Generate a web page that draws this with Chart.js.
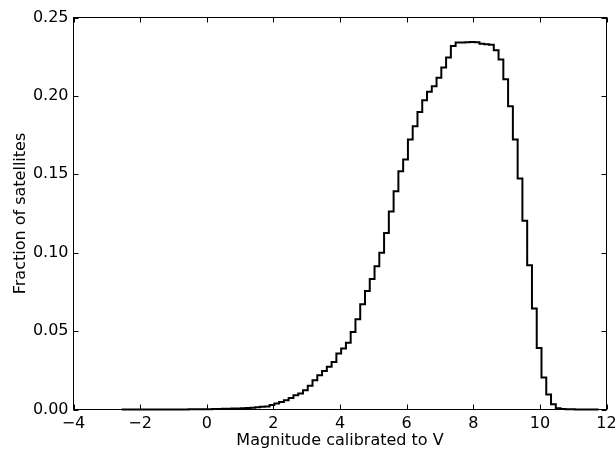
<!DOCTYPE html>
<html>
<head>
<meta charset="utf-8">
<script src="https://cdn.jsdelivr.net/npm/chart.js@4/dist/chart.umd.min.js"></script>
<style>
  html, body { margin: 0; padding: 0; background: #fff; }
  canvas { display: block; }
</style>
</head>
<body>
<canvas id="c" width="616" height="452"></canvas>
<script>
// Histogram bins (magnitude calibrated to V)
const binStart = -2.553;
const binWidth = 0.1432;
// Fraction of satellites in each bin (100 bins)
const fractions = [
  0.00001, 0.00001, 0.00001, 0.00001, 0.00001,
  0.00002, 0.00002, 0.00002, 0.00002, 0.00002,
  0.00004, 0.00004, 0.00004, 0.00004, 0.00004,
  0.00008, 0.0001, 0.00012, 0.00015, 0.0002,
  0.00025, 0.0003, 0.0004, 0.0005, 0.0006,
  0.0007, 0.0008, 0.0009, 0.0011, 0.0014,
  0.0018, 0.0019, 0.0029, 0.0038, 0.0048,
  0.0059, 0.0074, 0.0091, 0.0102, 0.0123,
  0.0151, 0.0187, 0.0219, 0.0246, 0.0272,
  0.0303, 0.0357, 0.0389, 0.0425, 0.0495,
  0.0576, 0.0672, 0.0756, 0.0833, 0.0914,
  0.0999, 0.1126, 0.1263, 0.1392, 0.1520,
  0.1594, 0.1722, 0.1807, 0.1898, 0.1973,
  0.2026, 0.2062, 0.2115, 0.2181, 0.2245,
  0.2319, 0.2341, 0.2340, 0.2342, 0.2343,
  0.2342, 0.2333, 0.2330, 0.2326, 0.2291,
  0.2232, 0.2106, 0.1934, 0.1722, 0.1473,
  0.1203, 0.0920, 0.0644, 0.0393, 0.0204,
  0.0096, 0.0034, 0.0008, 0.0003, 0.00015,
  0.0001, 0.00005, 0.00003, 0.00002, 0.00001
];
// Axis settings
const xTickValues = [-4, -2, 0, 2, 4, 6, 8, 10, 12];
const yTickValues = [0.00, 0.05, 0.10, 0.15, 0.20, 0.25];
const xTitle = 'Magnitude calibrated to V';
const yTitle = 'Fraction of satellites';

// Build step points: left edge of each bin + final right edge
const points = fractions.map((v, i) => ({ x: binStart + i * binWidth, y: v }));
points.push({ x: binStart + fractions.length * binWidth, y: fractions[fractions.length - 1] });

const FONT = { family: "'DejaVu Sans', sans-serif", size: 16 };

const framePlugin = {
  id: 'frame',
  afterDatasetsDraw(chart) {
    const { ctx, chartArea: a, scales: { x, y } } = chart;
    ctx.save();
    ctx.strokeStyle = '#000';
    ctx.lineWidth = 1;
    ctx.strokeRect(a.left, a.top, a.right - a.left, a.bottom - a.top);
    ctx.beginPath();
    const L = 5;
    x.ticks.forEach(t => {
      const px = Math.round(x.getPixelForValue(t.value)) + 0.5;
      ctx.moveTo(px, a.bottom); ctx.lineTo(px, a.bottom - L);
      ctx.moveTo(px, a.top); ctx.lineTo(px, a.top + L);
    });
    y.ticks.forEach(t => {
      const py = Math.round(y.getPixelForValue(t.value)) + 0.5;
      ctx.moveTo(a.left, py); ctx.lineTo(a.left + L, py);
      ctx.moveTo(a.right, py); ctx.lineTo(a.right - L, py);
    });
    ctx.stroke();
    ctx.restore();
  }
};

new Chart(document.getElementById('c'), {
  type: 'line',
  data: {
    datasets: [{
      data: points,
      stepped: 'after',
      borderColor: '#000',
      borderWidth: 2,
      pointRadius: 0,
      fill: false,
      clip: false
    }]
  },
  options: {
    responsive: false,
    animation: false,
    devicePixelRatio: 1,
    layout: { padding: { left: 0, top: 17.5, right: 9.5, bottom: 0 } },
    plugins: { legend: { display: false }, tooltip: { enabled: false } },
    scales: {
      x: {
        type: 'linear',
        min: -4, max: 12,
        afterBuildTicks: s => { s.ticks = xTickValues.map(v => ({ value: v })); },
        afterFit: s => { s.height = 42.5; s.paddingLeft = 0; s.paddingRight = 0; },
        grid: { display: false, drawTicks: false },
        border: { display: false },
        ticks: {
          font: FONT, color: '#000', padding: 5, maxRotation: 0,
          callback: v => (v < 0 ? '\u2212' + Math.abs(v) : String(v))
        },
        title: { display: true, text: xTitle, font: FONT, color: '#000', padding: { top: 0, bottom: 2 } }
      },
      y: {
        type: 'linear',
        min: 0, max: 0.25,
        afterBuildTicks: s => { s.ticks = yTickValues.map(v => ({ value: v })); },
        afterFit: s => { s.width = 73.5; s.paddingTop = 0; s.paddingBottom = 0; },
        grid: { display: false, drawTicks: false },
        border: { display: false },
        ticks: {
          font: FONT, color: '#000', padding: 5,
          callback: v => Number(v).toFixed(2)
        },
        title: { display: true, text: yTitle, font: FONT, color: '#000', padding: { top: 11, bottom: 0 } }
      }
    }
  },
  plugins: [framePlugin]
});
</script>
</body>
</html>
